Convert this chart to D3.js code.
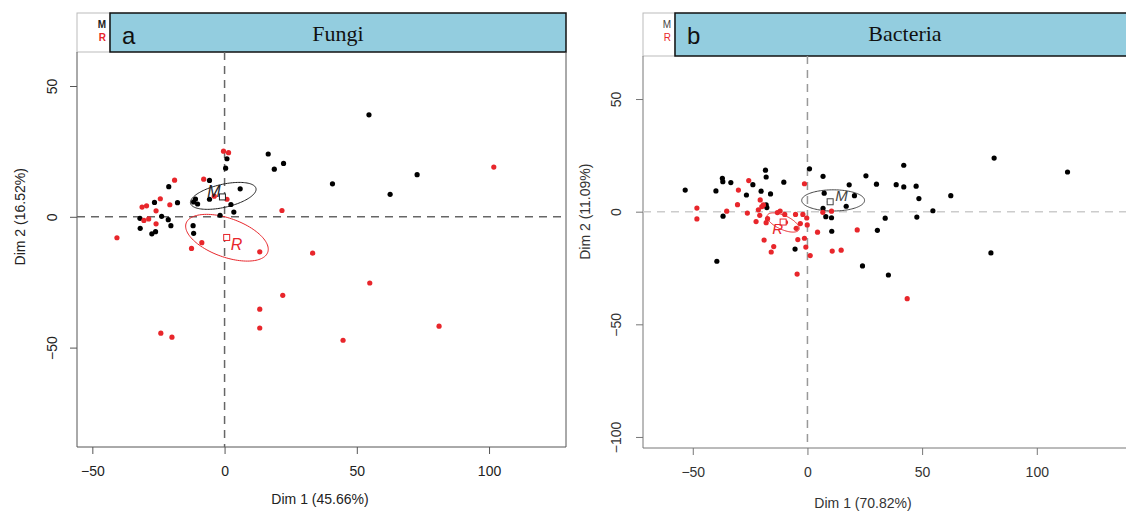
<!DOCTYPE html>
<html lang="en">
<head>
<meta charset="utf-8">
<title>MCA Fungi / Bacteria</title>
<script src="https://d3js.org/d3.v7.min.js"></script>
<style>
  body { margin: 0; background: #fff; }
  svg { display: block; font-family: "Liberation Sans", Arial, sans-serif; }
</style>
</head>
<body>
<div class="chart"></div>
<script>
// ---- data ----
// panel a (Fungi)
var fungiMX = [16.5, 22.3, 18.8, 0.9, 0.4, -5.7, 5.9, -21.1, -26.5, -17.8, -11.0, -11.7, -10.2, -5.7, 2.4, 3.5, -1.7, -23.8, -32.0, -21.3, -20.3, -31.9, -26.1, -27.5, -11.9, -11.7, 54.6, 40.8, 72.8, 62.6];
var fungiMY = [24.0, 20.4, 18.2, 22.2, 18.6, 13.9, 10.7, 11.5, 5.5, 5.4, 6.8, 5.7, 4.9, 6.7, 4.7, 1.8, 0.6, 0.2, -0.6, -1.1, -3.4, -4.4, -5.7, -6.5, -3.4, -6.3, 39.0, 12.6, 16.1, 8.6];
var fungiRX = [-0.4, 1.5, -7.9, -18.9, -3.9, 0.9, -24.3, -20.7, -29.5, -31.2, -25.9, -28.7, -30.5, -25.9, 21.7, -40.7, -8.6, -12.5, 13.3, 101.8, 33.3, 22.0, 54.9, 81.1, 44.8, -24.1, -19.9, 13.3, 13.3];
var fungiRY = [25.1, 24.5, 14.4, 14.0, 7.9, 6.7, 6.9, 4.6, 4.2, 3.7, 2.3, -0.8, -1.4, -2.7, 2.4, -8.0, -9.9, -12.1, -13.4, 19.0, -13.9, -30.0, -25.3, -41.8, -47.2, -44.5, -46.0, -35.3, -42.5];

// panel b (Bacteria)
var bactMX = [-53.3, -39.9, -37.1, -36.9, -33.4, -23.8, -26.6, -18.3, -18.0, -20.2, -16.1, -18.0, -17.7, -10.3, 0.9, 6.8, 7.3, 18.2, 25.5, 30.1, 38.7, 20.5, 9.6, 16.9, 6.8, 8.0, 10.5, 33.9, 10.6, 30.5, -36.8, -39.5, -5.4, 24.0, 35.3, 81.4, 113.4, 42.0, 42.0, 47.4, 48.6, 62.5, 54.7, 47.7, 80.0];
var bactMY = [9.6, 9.2, 14.8, 13.3, 12.9, 12.0, 7.4, 18.4, 15.4, 9.1, 7.9, 3.0, 1.8, 13.1, 19.0, 15.7, 8.2, 11.9, 15.9, 12.2, 12.0, 7.1, 4.4, 2.4, 1.5, -2.2, -2.7, -2.9, -8.7, -8.3, -2.0, -22.0, -16.6, -24.1, -28.1, 23.8, 17.6, 20.6, 11.0, 11.3, 5.8, 7.1, 0.4, -2.4, -18.3];
var bactRX = [-1.3, -25.6, -30.1, -30.5, -20.6, -48.2, -48.2, -35.2, -26.2, -21.4, -19.9, -19.2, -20.8, -22.4, -17.4, -18.0, -13.1, -11.9, -9.9, -9.6, -5.2, -2.0, -0.3, -3.1, -0.1, -4.9, 4.4, 6.7, 10.5, 21.7, -18.9, -4.2, -1.3, -14.7, -15.8, -0.7, 1.2, 10.8, 14.7, -4.5, 43.5];
var bactRY = [12.4, 13.8, 9.6, 3.1, 5.2, 1.6, -3.2, 0.2, -0.6, 0.8, 2.2, 3.0, -1.6, -4.4, -3.1, -4.9, -0.4, 0.3, -1.2, -4.7, -1.2, -1.2, -2.8, -5.3, -5.9, -7.4, -9.1, -0.3, 0.2, -8.1, -12.6, -12.4, -11.8, -15.5, -17.9, -15.7, -19.5, -17.5, -17.1, -27.7, -38.6];

// group centres and confidence ellipses: [cx, cy, semi-major, semi-minor, angle deg]
var groups = ["M", "R"];
var fungiEllipse = [[-0.5, 8.0, 12.7, 4.4, 13], [0.9, -8.0, 16.4, 7.4, -20]];
var fungiCentre = [[-0.8, 7.6], [0.8, -7.9]];
var bactEllipse = [[11.2, 5.0, 13.7, 4.7, 0], [-10.6, -4.8, 7.6, 3.1, -25]];
var bactCentre = [[9.9, 4.4], [-10.6, -4.6]];

var xTicks = [-50, 0, 50, 100];
var yTicksA = [-50, 0, 50];
var yTicksB = [-100, -50, 0, 50];

var W = 1126, H = 513;
var svg = d3.select(".chart").append("svg")
    .attr("width", W).attr("height", H)
    .style("overflow", "hidden");

var red = "#e8262b";

function panel(o) {
    var g = svg.append("g");
    var x = d3.scaleLinear().domain(o.xDom).range([o.left, o.right]);
    var y = d3.scaleLinear().domain(o.yDom).range([o.bottom, o.top]);

    // header
    g.append("rect").attr("x", o.left).attr("y", o.hTop)
        .attr("width", o.teal - o.left).attr("height", o.top - o.hTop)
        .attr("fill", "#fff").attr("stroke", "#bbb").attr("stroke-width", 1);
    g.append("rect").attr("x", o.teal).attr("y", o.hTop)
        .attr("width", o.right - o.teal).attr("height", o.top - o.hTop)
        .attr("fill", "#93cddf").attr("stroke", "#111").attr("stroke-width", 1.5);
    g.append("text").attr("x", o.teal - 4).attr("y", o.hTop + 15)
        .attr("text-anchor", "end").attr("font-size", 10).attr("fill", o.mCol)
        .attr("font-weight", o.keyWeight).text("M");
    g.append("text").attr("x", o.teal - 4).attr("y", o.hTop + 28)
        .attr("text-anchor", "end").attr("font-size", 10).attr("fill", red)
        .attr("font-weight", o.keyWeight).text("R");
    g.append("text").attr("x", o.teal + 12).attr("y", o.hTop + 31)
        .attr("font-size", 24).attr("fill", "#111").text(o.letter);
    g.append("text").attr("x", o.titleX).attr("y", o.hTop + 28)
        .attr("text-anchor", "middle").attr("font-size", 22)
        .attr("font-family", "'Liberation Serif', 'DejaVu Serif', serif")
        .attr("fill", "#111").text(o.title);

    // plot frame
    g.append("path")
        .attr("d", "M" + o.left + "," + o.top + "V" + o.bottom + "H" + o.right + "V" + o.top)
        .attr("fill", "none").attr("stroke", o.axisCol).attr("stroke-width", 1);

    // zero lines
    g.append("line").attr("x1", o.left).attr("x2", o.right)
        .attr("y1", y(0)).attr("y2", y(0))
        .attr("stroke", o.hZeroCol).attr("stroke-width", 1.5).attr("stroke-dasharray", "8,6");
    g.append("line").attr("x1", x(0)).attr("x2", x(0))
        .attr("y1", o.top).attr("y2", o.bottom)
        .attr("stroke", o.vZeroCol).attr("stroke-width", 1.5).attr("stroke-dasharray", "8,6");

    // axes
    var xa = g.append("g").attr("transform", "translate(0," + o.bottom + ")")
        .call(d3.axisBottom(x).tickValues(xTicks).tickSize(7).tickPadding(12).tickFormat(d3.format("d")));
    xa.select(".domain").remove();
    xa.selectAll("line").attr("stroke", o.axisCol);
    xa.selectAll("text").attr("font-size", 14).attr("fill", o.textCol)
        .attr("font-family", "'Liberation Sans', Arial, sans-serif");

    var ya = g.append("g").attr("transform", "translate(" + o.left + ",0)")
        .call(d3.axisLeft(y).tickValues(o.yTicks).tickSize(7).tickFormat(d3.format("d")));
    ya.select(".domain").remove();
    ya.selectAll("line").attr("stroke", o.axisCol);
    ya.selectAll("text").attr("font-size", 14).attr("fill", o.textCol)
        .attr("font-family", "'Liberation Sans', Arial, sans-serif")
        .attr("x", null).attr("dy", null)
        .attr("text-anchor", "middle")
        .attr("transform", "translate(" + (-o.yLabOff) + ",0) rotate(-90)");

    g.append("text").attr("x", o.xTitleX).attr("y", o.xTitleY)
        .attr("text-anchor", "middle").attr("font-size", 14).attr("fill", o.textCol)
        .text(o.xTitle);
    g.append("text")
        .attr("transform", "translate(" + o.yTitleX + "," + y(0) + ") rotate(-90)")
        .attr("text-anchor", "middle").attr("font-size", 14).attr("fill", o.textCol)
        .text(o.yTitle);

    // ellipses
    var line = d3.line().curve(d3.curveLinearClosed);
    o.ell.forEach(function(e, i) {
        var t = e[4] * Math.PI / 180;
        var pts = d3.range(0, 2 * Math.PI, Math.PI / 60).map(function(p) {
            var dx = e[2] * Math.cos(p), dy = e[3] * Math.sin(p);
            return [x(e[0] + dx * Math.cos(t) - dy * Math.sin(t)),
                    y(e[1] + dx * Math.sin(t) + dy * Math.cos(t))];
        });
        g.append("path").attr("d", line(pts)).attr("fill", "none")
            .attr("stroke", i === 0 ? o.mCol : red).attr("stroke-width", 1);
    });

    // points
    function dots(xs, ys, col) {
        g.selectAll(null).data(xs).enter().append("circle")
            .attr("cx", function(d) { return x(d); })
            .attr("cy", function(d, i) { return y(ys[i]); })
            .attr("r", 2.6).attr("fill", col);
    }
    dots(o.mx, o.my, "#000");
    dots(o.rx, o.ry, red);

    // group centres
    o.centre.forEach(function(c, i) {
        var col = i === 0 ? o.mCol : red;
        g.append("rect").attr("x", x(c[0]) - 3).attr("y", y(c[1]) - 3)
            .attr("width", 6).attr("height", 6)
            .attr("fill", "#fff").attr("stroke", col).attr("stroke-width", 1);
        var lp = o.labPos[i];
        g.append("text").attr("x", x(c[0]) + lp[0]).attr("y", y(c[1]) + lp[1])
            .attr("text-anchor", lp[2]).attr("font-style", "italic")
            .attr("font-size", o.labSize).attr("fill", col)
            .text(groups[i]);
    });
}

panel({
    left: 77, right: 566, top: 52, bottom: 447, hTop: 13, teal: 110,
    xDom: [-55.8, 129.1], yDom: [-88, 63], yTicks: yTicksA,
    letter: "a", title: "Fungi", titleX: 338,
    mCol: "#222", keyWeight: "bold", axisCol: "#555", textCol: "#222",
    hZeroCol: "#666", vZeroCol: "#666",
    yLabOff: 20.5, xTitle: "Dim 1 (45.66%)", xTitleX: 320, xTitleY: 504,
    yTitle: "Dim 2 (16.52%)", yTitleX: 25,
    ell: fungiEllipse, centre: fungiCentre, labSize: 16,
    labPos: [[-2, 0, "end"], [4, 13, "start"]],
    mx: fungiMX, my: fungiMY, rx: fungiRX, ry: fungiRY
});

panel({
    left: 643, right: 1140, top: 56, bottom: 448, hTop: 13, teal: 675,
    xDom: [-71.7, 145], yDom: [-104.9, 69.1], yTicks: yTicksB,
    letter: "b", title: "Bacteria", titleX: 905,
    mCol: "#444", keyWeight: "normal", axisCol: "#777", textCol: "#333",
    hZeroCol: "#ccc", vZeroCol: "#999",
    yLabOff: 22.5, xTitle: "Dim 1 (70.82%)", xTitleX: 863, xTitleY: 508,
    yTitle: "Dim 2 (11.09%)", yTitleX: 590,
    ell: bactEllipse, centre: bactCentre, labSize: 15,
    labPos: [[5, -1, "start"], [-11, 12, "start"]],
    mx: bactMX, my: bactMY, rx: bactRX, ry: bactRY
});
</script>
</body>
</html>
